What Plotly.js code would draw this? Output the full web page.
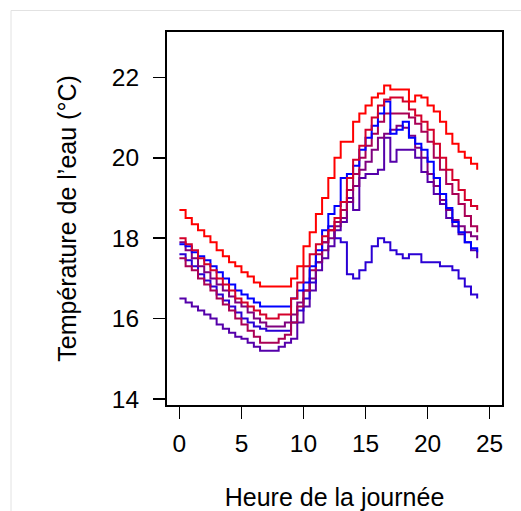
<!DOCTYPE html>
<html>
<head>
<meta charset="utf-8">
<script src="https://cdn.plot.ly/plotly-3.0.1.min.js"></script>
<style>html,body{margin:0;padding:0;background:#fff;}</style>
</head>
<body>
<div id="chart" style="width:521px;height:511px;"></div>
<script>
const hours = [0,0.5,1,1.5,2,2.5,3,3.5,4,4.5,5,5.5,6,6.5,7,7.5,8,8.5,9,9.5,10,10.5,11,11.5,12,12.5,13,13.5,14,14.5,15,15.5,16,16.5,17,17.5,18,18.5,19,19.5,20,20.5,21,21.5,22,22.5,23,23.5,24];

const serieRouge   = [18.7,18.5,18.35,18.2,18.05,17.9,17.7,17.55,17.4,17.3,17.15,17.05,16.9,16.8,16.8,16.8,16.8,16.8,17.0,17.3,17.8,18.15,18.6,19.0,19.5,20.0,20.4,20.4,20.9,21.1,21.3,21.5,21.6,21.8,21.7,21.7,21.7,21.4,21.55,21.5,21.3,21.15,20.9,20.6,20.35,20.15,20.0,19.85,19.7];
const serieRouge2  = [18.0,17.85,17.7,17.5,17.35,17.2,17.0,16.85,16.7,16.5,16.4,16.3,16.2,16.1,16.0,16.0,16.1,16.1,16.5,16.9,17.3,17.6,17.85,18.05,18.2,18.5,18.9,19.5,19.95,20.3,20.7,21.0,21.3,21.45,21.5,21.5,21.4,21.2,21.05,20.9,20.7,20.35,20.0,19.7,19.45,19.2,18.95,18.8,18.7];
const serieCramoisi= [17.5,17.3,17.2,17.0,16.85,16.7,16.5,16.35,16.2,16.0,15.85,15.7,15.55,15.4,15.4,15.4,15.5,15.6,15.9,16.3,16.7,17.2,17.6,17.9,18.2,18.4,18.7,19.2,19.6,20.0,20.3,20.6,20.9,21.1,21.1,21.1,21.1,21.0,20.85,20.65,20.4,20.0,19.7,19.35,19.1,18.85,18.55,18.3,18.15];
const seriePourpre = [17.9,17.7,17.5,17.3,17.15,17.0,16.85,16.7,16.55,16.4,16.3,16.15,16.0,15.9,15.8,15.8,15.8,15.9,16.1,16.4,16.7,17.0,17.4,17.7,18.0,18.3,18.5,18.9,19.3,19.7,19.9,20.2,20.5,20.6,20.7,20.8,20.75,20.55,20.25,20.0,19.6,19.3,18.95,18.7,18.45,18.3,18.15,18.05,17.95];
const serieViolet  = [16.5,16.4,16.3,16.2,16.1,16.0,15.85,15.75,15.65,15.55,15.5,15.4,15.3,15.2,15.2,15.2,15.3,15.4,15.5,15.9,16.3,16.7,17.2,17.5,17.8,18.2,18.4,19.0,18.7,19.5,19.6,19.6,19.7,20.5,19.9,20.2,20.2,20.2,20.0,19.65,19.4,19.1,18.85,18.5,18.3,18.1,17.9,17.7,17.5];
const serieIndigo  = [17.6,17.45,17.3,17.1,16.95,16.8,16.6,16.45,16.3,16.15,16.0,15.9,15.8,15.75,15.7,15.7,15.7,15.7,15.9,16.2,16.5,16.9,17.4,17.9,18.3,18.0,17.9,17.1,17.0,17.2,17.4,17.8,18.0,17.9,17.7,17.6,17.5,17.6,17.6,17.4,17.4,17.4,17.3,17.3,17.2,17.0,16.8,16.6,16.5];
const serieBleu    = [17.85,17.8,17.65,17.55,17.45,17.3,17.15,17.0,16.85,16.7,16.6,16.5,16.4,16.3,16.3,16.3,16.3,16.3,16.5,16.7,16.9,17.3,17.7,18.2,18.6,18.8,19.5,19.6,19.8,20.2,20.5,20.8,21.1,21.4,20.6,20.7,20.9,20.5,20.35,20.2,19.9,19.5,19.1,18.75,18.4,18.15,17.9,17.75,17.65];

const xTicks = [0,5,10,15,20,25];
const yTicks = [14,16,18,20,22];

const series = [
  {y: serieViolet,   color: '#5500AA'},
  {y: serieIndigo,   color: '#2A00D4'},
  {y: seriePourpre,  color: '#7F007F'},
  {y: serieCramoisi, color: '#AA0055'},
  {y: serieBleu,     color: '#0000FF'},
  {y: serieRouge2,   color: '#D4002A'},
  {y: serieRouge,    color: '#FF0000'}
];

const traces = series.map(s => ({
  x: hours, y: s.y, type: 'scatter', mode: 'lines',
  line: {shape: 'hv', color: s.color, width: 2},
  hoverinfo: 'skip'
}));

const W = 521, H = 511, L = 167, R = 19, T = 32, B = 106;
const pw = W - L - R, ph = H - T - B;

const layout = {
  width: W, height: H,
  margin: {l: L, r: R, t: T, b: B, pad: 0},
  paper_bgcolor: '#ffffff', plot_bgcolor: '#ffffff',
  showlegend: false,
  font: {family: '"Liberation Sans", Arial, sans-serif', size: 24.5, color: '#000000'},
  xaxis: {
    range: [-1, 26], tickvals: xTicks, ticktext: xTicks.map(String),
    ticks: 'outside', ticklen: 12, tickwidth: 1.5, tickcolor: '#000',
    showgrid: false, zeroline: false, showline: true, mirror: true,
    linecolor: '#000', linewidth: 2, ticklabelstandoff: 4,
    title: {text: 'Heure de la journée', standoff: 35, font: {size: 25}},
    automargin: false
  },
  yaxis: {
    range: [13.85, 23.13], tickvals: yTicks, ticktext: yTicks.map(String),
    ticks: 'outside', ticklen: 12, tickwidth: 1.5, tickcolor: '#000',
    showgrid: false, zeroline: false, showline: true, mirror: true,
    linecolor: '#000', linewidth: 2, ticklabelstandoff: 9,
    title: {text: 'Température de l’eau (°C)', standoff: 28, font: {size: 25}},
    automargin: false
  },
  shapes: [{
    type: 'rect', xref: 'paper', yref: 'paper', layer: 'below',
    x0: (11 - L) / pw, x1: (560 - L) / pw,
    y0: (T + ph - 560) / ph, y1: (T + ph - 10.5) / ph,
    line: {color: '#e2e2e2', width: 1}, fillcolor: 'rgba(0,0,0,0)'
  }]
};

Plotly.newPlot('chart', traces, layout, {displayModeBar: false, staticPlot: true});
</script>
</body>
</html>
